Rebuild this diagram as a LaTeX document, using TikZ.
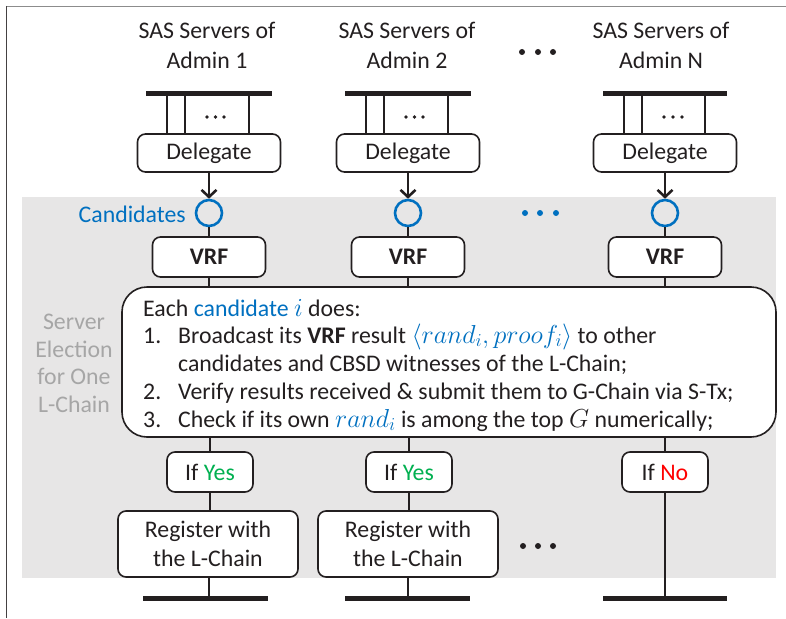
\RequirePackage{fix-cm}
\documentclass[tikz,border=0pt]{standalone}
\usepackage{fontspec}
\setmainfont{Carlito}
\usetikzlibrary{arrows.meta,calc}
\definecolor{cblue}{RGB}{0,112,192}
\definecolor{cgreen}{RGB}{0,176,80}
\definecolor{cred}{RGB}{255,0,0}
\definecolor{bggray}{RGB}{231,230,230}
\definecolor{lblgray}{RGB}{166,166,166}
\definecolor{ink}{RGB}{35,31,32}
\definecolor{framegray}{RGB}{140,140,140}
\newcommand{\fsz}{\fontsize{23.8}{29}\selectfont}
\newcommand{\mth}[1]{{\fontsize{26}{29}\selectfont$#1$}}
\begin{document}
\begin{tikzpicture}[x=1pt,y=-1pt,
  txt/.style={font=\fsz, inner sep=0pt, text=ink},
  lbl/.style={font=\fsz, inner sep=0pt, text=lblgray, anchor=base},
  box/.style={draw=ink, line width=1.6pt, rounded corners=8pt, fill=white, inner sep=0pt,
              font=\fsz, text=ink, align=center},
  conn/.style={draw=ink, line width=2.6pt},
  busbar/.style={draw=ink, line width=5pt},
  cand/.style={circle, draw=cblue, line width=2.6pt, minimum size=26pt, inner sep=0pt},
  bdot/.style={circle, fill=ink, inner sep=0pt, minimum size=6pt},
  sdot/.style={circle, fill=ink, inner sep=0pt, minimum size=3.6pt},
  udot/.style={circle, fill=cblue, inner sep=0pt, minimum size=6pt},
  arr/.style={-{Straight Barb[length=7pt,width=15pt,line width=2.6pt]}},
]
\useasboundingbox (0,0) rectangle (786,618);
% frame
\draw[framegray, line width=1.5pt] (6,6.5) -- (786,6.5);
\draw[ink!85, line width=1.5pt] (6.5,6) -- (6.5,618);
% gray background
\fill[bggray] (22,197) rectangle (776,578);

% titles
\node[txt, anchor=base] (t1a) at (207,39) {SAS Servers of};
\node[txt, anchor=base] (t1b) at (207,68) {Admin 1};
\node[txt, anchor=base] (t2a) at (407,39) {SAS Servers of};
\node[txt, anchor=base] (t2b) at (407,68) {Admin 2};
\node[txt, anchor=base] (t3a) at (661,39) {SAS Servers of};
\node[txt, anchor=base] (t3b) at (661,68) {Admin N};
\node[bdot] (td1) at (522,52) {};
\node[bdot] (td2) at (538,52) {};
\node[bdot] (td3) at (553,52) {};

% left label
\node[lbl] (l1) at (74,329) {Server};
\node[lbl] (l2) at (74,357) {Election};
\node[lbl] (l3) at (74,384) {for One};
\node[lbl] (l4) at (74,412) {L-Chain};

% Delegate boxes
\node[box, minimum width=143pt, minimum height=38pt] (d1) at (209,153) {Delegate};
\node[box, minimum width=143pt, minimum height=38pt] (d2) at (408,153) {Delegate};
\node[box, minimum width=143pt, minimum height=38pt] (d3) at (665,153) {Delegate};

% top buses
\coordinate (b1l) at (146,93); \coordinate (b1r) at (272,93);
\coordinate (b2l) at (345,93); \coordinate (b2r) at (471,93);
\coordinate (b3l) at (603,93); \coordinate (b3r) at (727,93);
\draw[busbar] (b1l) -- (b1r);
\draw[busbar] (b2l) -- (b2r);
\draw[busbar] (b3l) -- (b3r);
\foreach \x in {167,185,249} { \draw[conn] (\x,93) -- (\x,0 |- d1.north); }
\foreach \x in {366,384,448} { \draw[conn] (\x,93) -- (\x,0 |- d2.north); }
\foreach \x in {624,642,705} { \draw[conn] (\x,93) -- (\x,0 |- d3.north); }
\foreach \x [count=\i] in {207,215.5,224} { \node[sdot] (s1\i) at (\x,117) {}; }
\foreach \x [count=\i] in {406,414.5,423} { \node[sdot] (s2\i) at (\x,117) {}; }
\foreach \x [count=\i] in {664,673,682} { \node[sdot] (s3\i) at (\x,117) {}; }

% candidates
\node[cand] (k1) at (209,213) {};
\node[cand] (k2) at (408,213) {};
\node[cand] (k3) at (665,213) {};
\node[txt, anchor=base east, text=cblue] (cl) at (186,222) {Candidates};
\node[udot] (ud1) at (525,213) {};
\node[udot] (ud2) at (540,213) {};
\node[udot] (ud3) at (556,213) {};
\draw[conn, arr] (d1) -- (k1);
\draw[conn, arr] (d2) -- (k2);
\draw[conn, arr] (d3) -- (k3);

% VRF boxes
\node[box, minimum width=113pt, minimum height=40pt, font=\fsz\bfseries] (v1) at (209,257) {VRF};
\node[box, minimum width=113pt, minimum height=40pt, font=\fsz\bfseries] (v2) at (408,257) {VRF};
\node[box, minimum width=113pt, minimum height=40pt, font=\fsz\bfseries] (v3) at (665,257) {VRF};
\draw[conn] (k1) -- (v1);
\draw[conn] (k2) -- (v2);
\draw[conn] (k3) -- (v3);

% big box
\node[draw=ink, line width=1.6pt, rounded corners=25pt, fill=white, minimum width=654pt, minimum height=150pt, inner sep=0pt] (big) at (449,362) {};
\draw[conn] (v1) -- (v1.south |- big.north);
\draw[conn] (v2) -- (v2.south |- big.north);
\draw[conn] (v3) -- (v3.south |- big.north);
\node[txt, anchor=base west] (e0) at (143,316) {Each \textcolor{cblue}{candidate \mth{i}} does:};
\node[txt, anchor=base west] (n1) at (143,343) {1.};
\node[txt, anchor=base west] (e1) at (178,343) {Broadcast its \textbf{VRF} result \textcolor{cblue}{\mth{\langle rand_i, proof_i\rangle}} to other};
\node[txt, anchor=base west] (e1b) at (178,371) {candidates and CBSD witnesses of the L-Chain;};
\node[txt, anchor=base west] (n2) at (143,399) {2.};
\node[txt, anchor=base west] (e2) at (178,399) {Verify results received \& submit them to G-Chain via S-Tx;};
\node[txt, anchor=base west] (n3) at (143,427) {3.};
\node[txt, anchor=base west] (e3) at (178,427) {Check if its own \textcolor{cblue}{\mth{rand_i}} is among the top \mth{G} numerically;};

% decision boxes
\node[box, minimum width=86pt, minimum height=40pt] (y1) at (210,472) {If \textcolor{cgreen}{Yes}};
\node[box, minimum width=86pt, minimum height=40pt] (y2) at (409,472) {If \textcolor{cgreen}{Yes}};
\node[box, minimum width=86pt, minimum height=40pt] (y3) at (665,472) {If \textcolor{cred}{No}};
\draw[conn] (y1.north |- big.south) -- (y1);
\draw[conn] (y2.north |- big.south) -- (y2);
\draw[conn] (y3.north |- big.south) -- (y3);

% register boxes
\node[box, minimum width=180pt, minimum height=66pt] (r1) at (208,544) {Register with\\the L-Chain};
\node[box, minimum width=180pt, minimum height=66pt] (r2) at (408,544) {Register with\\the L-Chain};
\draw[conn] (y1) -- (y1.south |- r1.north);
\draw[conn] (y2) -- (y2.south |- r2.north);
\node[bdot] (bd1) at (523,546) {};
\node[bdot] (bd2) at (538,546) {};
\node[bdot] (bd3) at (553,546) {};

% bottom buses
\coordinate (c1) at (209,598);
\coordinate (c2) at (408,598);
\coordinate (c3) at (665,598);
\draw[busbar] (143,598) -- (268,598);
\draw[busbar] (345,598) -- (470,598);
\draw[busbar] (603,598) -- (727,598);
\draw[conn] (r1.south -| c1) -- (c1);
\draw[conn] (r2.south -| c2) -- (c2);
\draw[conn] (y3) -- (c3);
\end{tikzpicture}
\end{document}
